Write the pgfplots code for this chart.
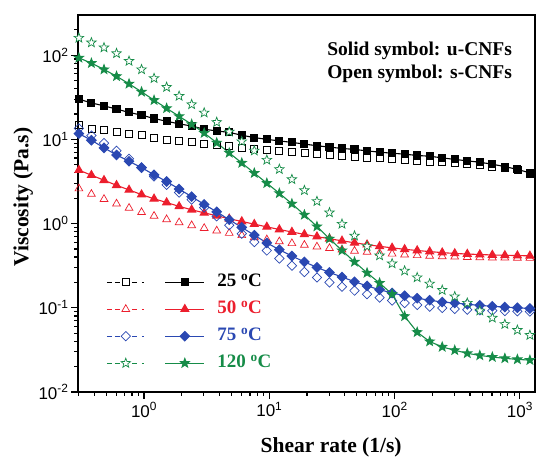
\documentclass[border=0pt]{standalone}
\usepackage{pgfplots}
\usepackage{pgfplotstable}
\pgfplotsset{compat=1.18}
\usepackage{fontspec}
\setmainfont{Liberation Serif}
\newfontfamily\arialfont{Liberation Sans}
\definecolor{cblack}{RGB}{0,0,0}
\definecolor{cred}{RGB}{236,30,45}
\definecolor{cblue}{RGB}{42,72,178}
\definecolor{cgreen}{RGB}{22,140,72}

\pgfdeclareplotmark{fivestar}{%
  \pgfpathmoveto{\pgfpointpolar{90}{\pgfplotmarksize}}%
  \pgfpathlineto{\pgfpointpolar{126}{0.42\pgfplotmarksize}}%
  \pgfpathlineto{\pgfpointpolar{162}{\pgfplotmarksize}}%
  \pgfpathlineto{\pgfpointpolar{198}{0.42\pgfplotmarksize}}%
  \pgfpathlineto{\pgfpointpolar{234}{\pgfplotmarksize}}%
  \pgfpathlineto{\pgfpointpolar{270}{0.42\pgfplotmarksize}}%
  \pgfpathlineto{\pgfpointpolar{306}{\pgfplotmarksize}}%
  \pgfpathlineto{\pgfpointpolar{342}{0.42\pgfplotmarksize}}%
  \pgfpathlineto{\pgfpointpolar{18}{\pgfplotmarksize}}%
  \pgfpathlineto{\pgfpointpolar{54}{0.42\pgfplotmarksize}}%
  \pgfpathclose
  \pgfusepathqfillstroke
}

\pgfplotstableread{
x      As    Ao    Rs    Ro    Bs    Bo     Gs     Go
0.302  30.0  15.0  4.31  2.60  11.7  13.5   92.9   160
0.380  27.1  13.2  3.76  2.24  9.77  11.1   80.4   141
0.479  25.0  12.9  3.27  1.95  7.94  9.02   67.6   123
0.603  22.9  12.3  2.85  1.72  6.53  7.33   56.2   105
0.759  20.9  11.6  2.51  1.53  5.50  5.89   45.7   85.1
0.955  19.4  11.2  2.21  1.36  4.62  4.62   36.7   67.6
1.202  17.7  10.4  1.97  1.23  3.80  3.63   29.2   53.1
1.514  16.4  9.9   1.78  1.12  3.16  2.88   23.4   41.7
1.905  15.3  9.6   1.60  1.03  2.57  2.34   18.8   32.7
2.399  14.4  9.3   1.46  0.951 2.09  1.93   15.1   26.0
3.020  13.2  8.9   1.34  0.881 1.69  1.55   11.9   20.7
3.802  12.6  8.6   1.24  0.822 1.38  1.22   9.12   16.0
4.786  12.1  8.3   1.14  0.771 1.11  0.955  6.92   12.3
6.026  11.2  8.0   1.06  0.724 0.902 0.759  5.25   9.44
7.586  10.5  7.76  0.984 0.684 0.728 0.603  3.98   7.33
9.550  10.0  7.5   0.914 0.646 0.590 0.479  3.02   5.69
12.02  9.6   7.28  0.851 0.612 0.490 0.385  2.29   4.42
15.14  9.2   7.08  0.794 0.582 0.412 0.316  1.72   3.35
19.05  8.8   6.89  0.745 0.556 0.351 0.266  1.27   2.48
23.99  8.4   6.70  0.700 0.531 0.302 0.229  0.923  1.84
30.20  8.1   6.53  0.661 0.509 0.263 0.200  0.661  1.35
38.02  7.8   6.38  0.624 0.490 0.232 0.178  0.479  0.989
47.86  7.6   6.24  0.592 0.473 0.204 0.160  0.351  0.716
60.26  7.3   6.10  0.562 0.459 0.182 0.145  0.260  0.537
75.86  7.05  5.96  0.537 0.447 0.164 0.132  0.197  0.417
95.50  6.85  5.82  0.515 0.437 0.150 0.122  0.145  0.335
120.2  6.67  5.69  0.495 0.427 0.139 0.114  0.0794 0.275
151.4  6.44  5.57  0.479 0.419 0.130 0.108  0.0513 0.229
190.5  6.31  5.46  0.465 0.412 0.123 0.103  0.0398 0.193
239.9  6.03  5.35  0.452 0.407 0.117 0.0993 0.0343 0.162
302.0  5.78  5.20  0.442 0.403 0.114 0.0966 0.0313 0.136
380.2  5.56  5.06  0.435 0.399 0.110 0.0948 0.0288 0.114
478.6  5.35  4.92  0.429 0.396 0.107 0.0933 0.0272 0.0923
602.6  5.07  4.74  0.424 0.394 0.104 0.0923 0.0260 0.0759
758.6  4.75  4.57  0.420 0.393 0.102 0.0914 0.0251 0.0638
955.0  4.40  4.32  0.417 0.391 0.100 0.0908 0.0244 0.0543
1202   4.00  3.95  0.414 0.389 0.098 0.0902 0.0239 0.0473
}\datatable

\pgfplotsset{
  openleg/.style={legend image code/.code={%
    \draw[##1, line width=0.9pt, dash pattern=on 5pt off 3pt] (0pt,0pt) -- (13pt,0pt);
    \draw[##1, line width=0.9pt, dash pattern=on 5pt off 5pt on 2pt off 9pt] (25pt,0pt) -- (38pt,0pt);
    \draw[##1] plot coordinates {(19pt,0pt)};
    \path[draw=none, fill=none] (0pt,0pt) -- (57pt,0pt);}},
  solidleg/.style={legend image code/.code={%
    \draw[mark repeat=2, mark phase=2, ##1] plot coordinates {(0pt,0pt) (19.5pt,0pt) (39pt,0pt)};
    \path[draw=none, fill=none] (0pt,0pt) -- (52pt,0pt);}},
}

\begin{document}
\begin{tikzpicture}
\useasboundingbox (-78pt,-65pt) rectangle (461pt,392pt);
\begin{axis}[
  xmode=log, ymode=log,
  width=457pt, height=377pt, scale only axis,
  xmin=0.297, xmax=1320, ymin=0.01, ymax=300,
  axis line style={line width=1.5pt},
  tick align=outside, tick pos=left,
  major tick length=7pt, minor tick length=4pt,
  every tick/.style={line width=1.2pt, black},
  xtick={1,10,100,1000},
  xticklabels={10\textsuperscript{0},10\textsuperscript{1},10\textsuperscript{2},10\textsuperscript{3}},
  minor xtick={0.3,0.4,0.5,0.6,0.7,0.8,0.9,2,3,4,5,6,7,8,9,20,30,40,50,60,70,80,90,200,300,400,500,600,700,800,900},
  ytick={0.01,0.1,1,10,100},
  yticklabels={10\textsuperscript{-2},10\textsuperscript{-1},10\textsuperscript{0},10\textsuperscript{1},10\textsuperscript{2}},
  minor ytick={0.02,0.03,0.04,0.05,0.06,0.07,0.08,0.09,0.2,0.3,0.4,0.5,0.6,0.7,0.8,0.9,2,3,4,5,6,7,8,9,20,30,40,50,60,70,80,90,200},
  ticklabel style={font=\arialfont\fontsize{17}{17}\selectfont},
  yticklabel style={xshift=1pt},
  xlabel={Shear rate (1/s)}, ylabel={Viscosity (Pa.s)},
  label style={font=\fontsize{21.5}{21.5}\selectfont\bfseries},
  xlabel style={at={(axis description cs:0.554,-0.147)}, anchor=center},
  ylabel style={at={(axis description cs:-0.12,0.517)}, anchor=center},
  legend columns=2,
  legend style={draw=none, fill=none, at={(axis description cs:0.055,0.325)}, anchor=north west,
    font=\fontsize{19}{19}\selectfont\bfseries, column sep=0pt, row sep=6pt,
    nodes={inner xsep=0pt, inner ysep=2pt, text height=13pt, text depth=4pt}},
  legend cell align=left,
]
\addplot[only marks, mark=square, mark size=3.5pt, mark options={line width=0.7pt, fill=white, draw=cblack}, openleg] table[x=x, y=Ao] {\datatable};
\addlegendentry{}
\addplot[cblack, line width=1.1pt, mark=square*, mark size=3.5pt, mark options={fill=cblack}, solidleg] table[x=x, y=As] {\datatable};
\addlegendentry{\textcolor{cblack}{25 \textsuperscript{o}C}}
\addplot[only marks, mark=triangle, mark size=4.5pt, mark options={line width=0.7pt, fill=white, draw=cred}, cred, openleg] table[x=x, y=Ro] {\datatable};
\addlegendentry{}
\addplot[cred, line width=1.1pt, mark=triangle*, mark size=4.5pt, mark options={fill=cred}, solidleg] table[x=x, y=Rs] {\datatable};
\addlegendentry{\textcolor{cred}{50 \textsuperscript{o}C}}
\addplot[only marks, mark=square, mark size=3.3pt, mark options={rotate=45, line width=0.7pt, fill=white, draw=cblue}, cblue, openleg] table[x=x, y=Bo] {\datatable};
\addlegendentry{}
\addplot[cblue, line width=1.1pt, mark=square*, mark size=3.3pt, mark options={rotate=45, fill=cblue}, solidleg] table[x=x, y=Bs] {\datatable};
\addlegendentry{\textcolor{cblue}{75 \textsuperscript{o}C}}
\addplot[only marks, mark=fivestar, mark size=5pt, mark options={line width=0.7pt, fill=white, draw=cgreen}, cgreen, openleg] table[x=x, y=Go] {\datatable};
\addlegendentry{}
\addplot[cgreen, line width=1.1pt, mark=fivestar, mark size=4.5pt, mark options={fill=cgreen}, solidleg] table[x=x, y=Gs] {\datatable};
\addlegendentry{\textcolor{cgreen}{120 \textsuperscript{o}C}}
\node[anchor=north west, align=left, inner sep=0pt, font=\fontsize{19.5}{23}\selectfont\bfseries]
  at (axis description cs:0.545,0.928) {Solid symbol: u-CNFs\\Open symbol: s-CNFs};
\end{axis}
\end{tikzpicture}
\end{document}
